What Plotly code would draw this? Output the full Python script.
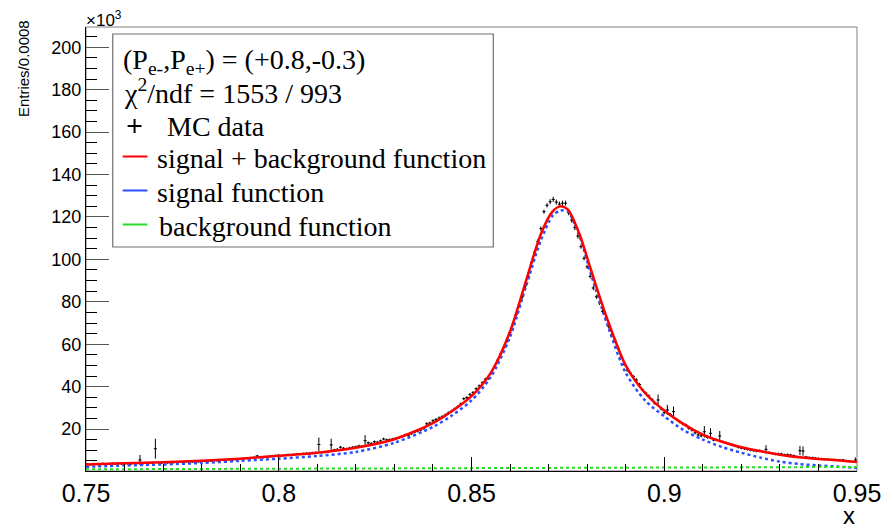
import plotly.graph_objects as go

# ---------------- data (values in units of 10^3 entries) ----------------
bin_lo = 0.75
bin_width = 0.0008
n_bins = 250

mc_data = [
    # 0-9
    3.4, 3.2, 3.6, 3.5, 3.3, 3.7, 3.4, 3.6, 3.8, 3.5,
    # 10-19
    3.8, 3.6, 3.9, 3.7, 3.5, 3.9, 3.8, 5.4, 3.7, 4.0,
    # 20-29
    3.9, 4.1, 10.7, 4.2, 4.0, 4.3, 4.1, 4.4, 4.2, 4.3,
    # 30-39
    4.5, 4.4, 4.6, 4.7, 4.5, 4.8, 4.6, 4.9, 4.8, 5.0,
    # 40-49
    5.0, 5.2, 5.1, 5.4, 5.3, 5.5, 5.6, 5.4, 5.7, 5.8,
    # 50-59
    6.0, 6.2, 6.1, 6.4, 6.6, 7.3, 6.7, 6.6, 6.9, 7.0,
    # 60-69
    7.3, 7.5, 7.6, 7.4, 7.7, 7.9, 7.8, 8.0, 8.2, 8.1,
    # 70-79
    8.3, 8.5, 8.4, 8.7, 8.8, 12.7, 8.9, 9.1, 9.3, 12.5,
    # 80-89
    10.1, 10.4, 11.4, 10.9, 10.6, 11.0, 11.4, 11.6, 12.0, 11.8,
    # 90-99
    14.5, 13.5, 13.2, 14.0, 13.8, 14.4, 15.3, 14.9, 15.0, 15.3,
    # 100-109
    15.6, 16.0, 16.5, 17.2, 17.0, 17.8, 18.5, 19.0, 19.5, 20.3,
    # 110-119
    22.5, 22.8, 23.9, 24.5, 25.2, 25.8, 26.6, 27.6, 28.4, 29.4,
    # 120-129
    30.4, 31.8, 34.3, 34.8, 36.3, 37.2, 39.0, 40.3, 41.8, 43.5,
    # 130-139
    44.0, 46.5, 49.5, 52.5, 55.5, 58.5, 61.5, 65.5, 69.5, 74.0,
    # 140-149
    78.5, 82.4, 87.5, 92.0, 98.5, 103.5, 108.5, 114.5, 122.5, 125.5,
    # 150-159
    127.2, 128.3, 127.0, 126.1, 126.5, 126.5, 122.0, 118.5, 115.0, 111.0,
    # 160-169
    106.0, 100.5, 96.5, 92.0, 86.5, 82.4, 79.5, 75.5, 72.2, 68.3,
    # 170-179
    64.5, 62.0, 58.0, 54.0, 50.5, 47.8, 46.3, 44.7, 43.1, 41.0,
    # 180-189
    38.4, 37.0, 35.6, 34.0, 32.0, 33.7, 29.5, 27.7, 29.0, 26.8,
    # 190-199
    28.2, 24.5, 23.4, 22.5, 21.9, 20.3, 19.5, 18.2, 17.2, 16.8,
    # 200-209
    18.7, 16.0, 18.0, 14.8, 15.0, 16.7, 14.0, 13.5, 13.0, 12.5,
    # 210-219
    12.0, 11.4, 11.0, 10.7, 10.4, 10.1, 9.8, 9.6, 9.8, 9.3,
    # 220-229
    10.4, 8.9, 8.6, 8.2, 8.3, 8.2, 7.8, 7.9, 7.7, 7.4,
    # 230-239
    7.0, 9.8, 9.6, 6.8, 6.6, 6.5, 6.2, 6.1, 5.9, 5.8,
    # 240-249
    5.7, 5.5, 5.6, 5.4, 5.2, 5.4, 5.0, 4.8, 4.6, 5.4,
]

# typical error per group of 10 bins, plus the visibly larger ones
err_per_group = [0.5, 0.5, 0.5, 0.5, 0.5, 0.5, 0.5, 0.6, 0.6, 0.6,
                 0.6, 0.7, 0.7, 0.8, 1.0, 1.2, 1.0, 0.8, 0.7, 0.7,
                 0.6, 0.6, 0.6, 0.5, 0.5]
err_large = {17: 2.4, 22: 4.7, 75: 3.3, 79: 2.9, 90: 2.6, 185: 2.6,
             188: 2.4, 190: 2.4, 200: 2.7, 202: 2.4, 205: 2.4, 220: 2.0,
             231: 2.2, 232: 2.2, 249: 1.2}

# fit functions
fit_x = [0.750, 0.760, 0.770, 0.780, 0.790, 0.800, 0.810, 0.820, 0.830, 0.840,
         0.845, 0.850, 0.855, 0.860, 0.864, 0.868, 0.871, 0.873, 0.875, 0.878,
         0.881, 0.885, 0.890, 0.895, 0.900, 0.905, 0.910, 0.915, 0.920, 0.925,
         0.930, 0.935, 0.940, 0.945, 0.950]
sig_bkg = [3.3, 3.8, 4.3, 5.0, 6.0, 7.4, 8.8, 11.2, 15.2, 22.8,
           28.5, 35.5, 46.5, 66.0, 89.0, 112.0, 122.5, 125.0, 123.5, 112.0,
           95.0, 73.0, 50.0, 37.0, 28.7, 22.3, 17.4, 14.0, 11.4, 9.5,
           7.9, 6.7, 5.9, 5.3, 4.4]
sig = [2.2, 2.8, 3.3, 4.0, 5.0, 6.0, 7.3, 9.2, 13.5, 21.0,
       26.5, 33.5, 44.5, 63.5, 86.5, 109.0, 120.5, 123.0, 122.5, 111.0,
       93.0, 70.5, 46.5, 33.5, 26.0, 19.5, 15.0, 11.5, 8.8, 6.5,
       4.6, 3.5, 2.8, 2.3, 1.6]
bkg_x = [0.750, 0.800, 0.850, 0.898, 0.901, 0.950]
bkg = [1.0, 1.3, 1.55, 1.7, 2.0, 2.1]

x_ticks = [0.75, 0.80, 0.85, 0.90, 0.95]
x_tick_text = ["0.75", "0.8", "0.85", "0.9", "0.95"]
y_ticks = [20, 40, 60, 80, 100, 120, 140, 160, 180, 200]
y_tick_text = [str(v) for v in y_ticks]

legend_header = ["(P<sub>e-</sub>,P<sub>e+</sub>) = (+0.8,-0.3)",
                 "χ<sup>2</sup>/ndf = 1553 / 993"]
legend_labels = ["MC data", "signal + background function",
                 "signal function", "background function"]

# ---------------- figure ----------------
bin_centers = [bin_lo + bin_width * (i + 0.5) for i in range(n_bins)]
data_err = [err_large.get(i, err_per_group[i // 10]) for i in range(n_bins)]

RED = "rgb(255,0,0)"
BLUE = "rgb(40,80,255)"
GREEN = "rgb(40,220,40)"

fig = go.Figure()
fig.add_trace(go.Scatter(
    x=bin_centers, y=mc_data, mode="markers", name=legend_labels[0],
    marker=dict(size=1, color="black"),
    error_y=dict(type="data", array=data_err, color="black", thickness=1, width=0),
    error_x=dict(type="constant", value=bin_width / 2, color="black", thickness=1, width=0),
    showlegend=False))
fig.add_trace(go.Scatter(
    x=fit_x, y=sig, mode="lines", name=legend_labels[2],
    line=dict(color=BLUE, width=2.5, dash="3px,3px", shape="spline", smoothing=0.8),
    showlegend=False))
fig.add_trace(go.Scatter(
    x=bkg_x, y=bkg, mode="lines", name=legend_labels[3],
    line=dict(color=GREEN, width=2, dash="3px,3px"),
    showlegend=False))
fig.add_trace(go.Scatter(
    x=fit_x, y=sig_bkg, mode="lines", name=legend_labels[1],
    line=dict(color=RED, width=2.5, shape="spline", smoothing=0.8),
    showlegend=False))

L, R, T, B = 86, 864, 27, 471
W, H = 893, 529


def px(xp):
    return (xp - L) / (R - L)


def py(yp):
    return (B - yp) / (B - T)


sans = "Liberation Sans, Arial, Helvetica, sans-serif"
serif = "Liberation Serif, Times New Roman, serif"
LEG_FONT = 28

shapes = []
annotations = []

# frame
shapes.append(dict(type="rect", xref="paper", yref="paper", x0=0, x1=1, y0=0, y1=1,
                   line=dict(color="#808080", width=1), layer="below"))
# legend box
shapes.append(dict(type="rect", xref="paper", yref="paper",
                   x0=px(113), x1=px(497), y0=py(247), y1=py(34),
                   line=dict(color="#707070", width=1.2), fillcolor="white", layer="above"))

# header rows
annotations.append(dict(text=legend_header[0], xref="paper", yref="paper",
                        x=px(121), y=py(61), xanchor="left", yanchor="middle",
                        showarrow=False, font=dict(family=serif, size=LEG_FONT, color="black")))
annotations.append(dict(text=legend_header[1], xref="paper", yref="paper",
                        x=px(122), y=py(92), xanchor="left", yanchor="middle",
                        showarrow=False, font=dict(family=serif, size=LEG_FONT, color="black")))
# MC data entry: cross
shapes.append(dict(type="line", xref="paper", yref="paper", x0=px(128), x1=px(142),
                   y0=py(126), y1=py(126), line=dict(color="black", width=2)))
shapes.append(dict(type="line", xref="paper", yref="paper", x0=px(135), x1=px(135),
                   y0=py(119), y1=py(133), line=dict(color="black", width=2)))
annotations.append(dict(text=legend_labels[0], xref="paper", yref="paper",
                        x=px(166), y=py(126), xanchor="left", yanchor="middle",
                        showarrow=False, font=dict(family=serif, size=LEG_FONT, color="black")))
# function entries
for label, color, ycen, xt in [(legend_labels[1], RED, 158, 156),
                               (legend_labels[2], BLUE, 192, 156),
                               (legend_labels[3], GREEN, 226, 158)]:
    shapes.append(dict(type="line", xref="paper", yref="paper", x0=px(123), x1=px(148),
                       y0=py(ycen - 1.5), y1=py(ycen - 1.5), line=dict(color=color, width=2)))
    annotations.append(dict(text=label, xref="paper", yref="paper",
                            x=px(xt), y=py(ycen), xanchor="left", yanchor="middle",
                            showarrow=False, font=dict(family=serif, size=LEG_FONT, color="black")))

# axis titles and exponent
annotations.append(dict(text="Entries/0.0008", xref="paper", yref="paper",
                        x=px(23), y=py(18), xanchor="center", yanchor="top",
                        textangle=-90, showarrow=False,
                        font=dict(family=sans, size=15, color="black")))
annotations.append(dict(text="×10<sup>3</sup>", xref="paper", yref="paper",
                        x=px(84), y=py(19), xanchor="left", yanchor="middle",
                        showarrow=False, font=dict(family=sans, size=17, color="black")))
annotations.append(dict(text="x", xref="paper", yref="paper",
                        x=px(864), y=py(515), xanchor="right", yanchor="middle",
                        showarrow=False, font=dict(family=sans, size=24, color="black")))

fig.update_layout(
    width=W, height=H,
    margin=dict(l=L, r=W - R, t=T, b=H - B, pad=0),
    paper_bgcolor="white", plot_bgcolor="white",
    showlegend=False,
    shapes=shapes, annotations=annotations,
    xaxis=dict(range=[0.75, 0.95], tickvals=x_ticks, ticktext=x_tick_text,
               ticks="inside", ticklen=14, tickwidth=1, tickcolor="black",
               showline=True, linecolor="black", linewidth=1, mirror=False,
               showgrid=False, zeroline=False,
               tickfont=dict(family=sans, size=25, color="black"),
               minor=dict(dtick=0.01, tick0=0.75, ticks="inside", ticklen=7,
                          tickcolor="black", tickwidth=1, showgrid=False)),
    yaxis=dict(range=[0.2, 209.6], tickvals=y_ticks, ticktext=y_tick_text,
               ticks="inside", ticklen=23, tickwidth=1, tickcolor="#555555",
               showline=True, linecolor="black", linewidth=1, mirror=False,
               showgrid=False, zeroline=False,
               tickfont=dict(family=sans, size=18, color="black"),
               minor=dict(dtick=5, tick0=0, ticks="inside", ticklen=11,
                          tickcolor="black", tickwidth=1, showgrid=False)),
)

fig.write_html("out.html",
               config={"displayModeBar": False},
               post_script="document.body.style.margin='0';document.body.style.overflow='hidden';")
